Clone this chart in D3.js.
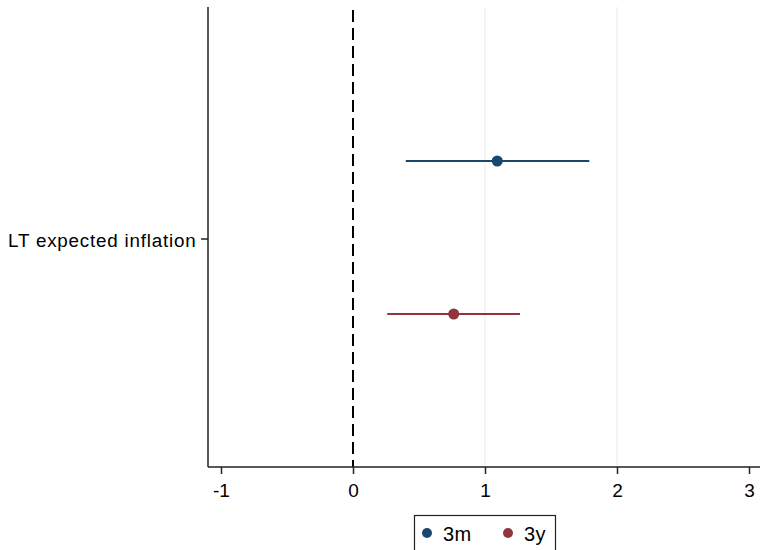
<!DOCTYPE html>
<html><head><meta charset="utf-8">
<script src="https://cdn.jsdelivr.net/npm/d3@7"></script>
<style>body{margin:0;background:#fff}svg{display:block}text{font-family:"Liberation Sans",Arial,Helvetica,sans-serif}</style>
</head><body><svg id="c" width="760" height="550"></svg>
<script>
const categories = ["LT expected inflation"];
const seriesNames = ["3m", "3y"];
const seriesColors = ["#1a476f", "#90353b"];
const estimates = [1.093, 0.763];
const ciLow = [0.40, 0.26];
const ciHigh = [1.79, 1.265];
const xTicks = [-1, 0, 1, 2, 3];
const gridTicks = [1, 2];

const svg = d3.select("#c");
const pL = 208, pT = 7, pB = 467, pR = 760;
const x = d3.scaleLinear().domain([0, 1]).range([353, 485]);
const yCat = d3.scaleBand().domain(categories).range([pT, pB]);
const ySub = d3.scalePoint().domain(seriesNames).range([161, 314]);

// gridlines
svg.append("g").selectAll("line").data(gridTicks).join("line")
  .attr("x1", d => x(d)).attr("x2", d => x(d)).attr("y1", pT).attr("y2", pB)
  .attr("stroke", "#eaf0f2").attr("stroke-width", 1.2);

// zero dashed line
svg.append("line").attr("x1", x(0)).attr("x2", x(0)).attr("y1", pT + 3).attr("y2", pB)
  .attr("stroke", "#000").attr("stroke-width", 2).attr("stroke-dasharray", "12,6");

// x axis
const xAxis = d3.axisBottom(x).tickValues(xTicks).tickSize(7).tickPadding(10)
  .tickFormat(d => String(d));
const gx = svg.append("g").attr("transform", `translate(0,${pB})`).call(xAxis);
gx.select(".domain").remove();
gx.append("line").attr("x1", pL).attr("x2", pR).attr("y1", 0).attr("y2", 0).attr("stroke", "#222").attr("stroke-width", 1.5);
gx.selectAll(".tick line").attr("stroke", "#222").attr("stroke-width", 1.5);
gx.selectAll(".tick text").attr("font-size", 19).attr("fill", "#000").attr("font-family", "Liberation Sans, Arial, sans-serif");

// y axis
svg.append("line").attr("x1", pL).attr("x2", pL).attr("y1", pT).attr("y2", pB).attr("stroke", "#222").attr("stroke-width", 1.5);
const yc = yCat(categories[0]) + yCat.bandwidth() / 2 + 2;
svg.append("line").attr("x1", pL - 7).attr("x2", pL).attr("y1", yc).attr("y2", yc).attr("stroke", "#222").attr("stroke-width", 1.5);
svg.append("text").attr("x", pL - 11.5).attr("y", yc + 7.5).attr("text-anchor", "end")
  .attr("font-size", 18.8).attr("letter-spacing", "0.8px").attr("fill", "#000").text(categories[0]);

// CIs and points
seriesNames.forEach((s, i) => {
  const yy = ySub(s);
  svg.append("line").attr("x1", x(ciLow[i])).attr("x2", x(ciHigh[i])).attr("y1", yy).attr("y2", yy)
    .attr("stroke", seriesColors[i]).attr("stroke-width", 2);
  svg.append("circle").attr("cx", x(estimates[i])).attr("cy", yy).attr("r", 5.5).attr("fill", seriesColors[i]);
});

// legend
const lg = svg.append("g");
lg.append("rect").attr("x", 414.5).attr("y", 515.5).attr("width", 141).attr("height", 50)
  .attr("fill", "#fff").attr("stroke", "#222").attr("stroke-width", 1.2);
const legX = [427, 508];
seriesNames.forEach((s, i) => {
  lg.append("circle").attr("cx", legX[i]).attr("cy", 533).attr("r", 5).attr("fill", seriesColors[i]);
  lg.append("text").attr("x", legX[i] + 16).attr("y", 541).attr("font-size", 20).attr("letter-spacing", "0.4px").attr("fill", "#000").text(s);
});
</script></body></html>
